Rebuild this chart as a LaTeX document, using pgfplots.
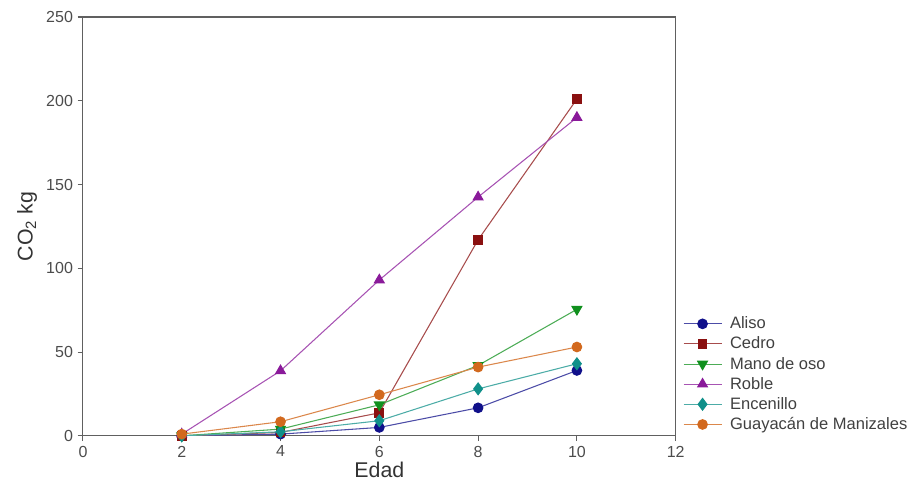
\documentclass[border=0pt]{standalone}
\usepackage{pgfplots}
\pgfplotsset{compat=1.18}
\usepackage{fontspec}
\setmainfont{Liberation Sans}
\definecolor{cAliso}{HTML}{10108A}
\definecolor{cCedro}{HTML}{8A1010}
\definecolor{cMano}{HTML}{10901E}
\definecolor{cRoble}{HTML}{8A1A9A}
\definecolor{cEnce}{HTML}{10908A}
\definecolor{cGuay}{HTML}{D2691E}
\definecolor{axgray}{HTML}{606060}
\begin{document}
\begin{tikzpicture}
\begin{axis}[
    name=ax,
    scale only axis,
    width=444.75pt, height=314.25pt,
    xmin=0, xmax=12, ymin=0, ymax=250,
    xtick={0,2,4,6,8,10,12},
    ytick={0,50,100,150,200,250},
    tick align=outside,
    xtick pos=bottom, ytick pos=left,
    major tick length=4pt,
    axis line style={axgray, line width=0.8pt},
    tick style={axgray, line width=0.8pt},
    /pgf/number format/assume math mode=true,
    ticklabel style={font=\fontsize{12}{14}\selectfont, text=black!70},
    xlabel={Edad}, ylabel={CO\textsubscript{2} kg},
    label style={font=\fontsize{16}{19}\selectfont, text=black!80},
    xlabel style={yshift=3.5pt},
    every axis plot/.append style={line width=0.8pt},
    legend style={at={(1.012,0.291)}, anchor=north west, draw=none, fill=none,
        font=\fontsize{12.4}{15}\selectfont, text=black!75, row sep=0.6pt, inner sep=0pt,
        /tikz/every odd column/.append style={column sep=4pt}},
    legend cell align=left,
    legend image code/.code={\draw[mark repeat=2,mark phase=2,#1] plot coordinates {(0cm,0cm) (0.5cm,0cm) (1cm,0cm)};},
]
\addplot[color=cAliso!75!white, mark=*, mark size=3.6pt, mark options={fill=cAliso, draw=cAliso}]
coordinates {(2,0) (4,1) (6,5) (8,16.7) (10,39)};
\addlegendentry{Aliso}
\addplot[color=cCedro!75!white, mark=square*, mark size=3.3pt, mark options={fill=cCedro, draw=cCedro}]
coordinates {(2,0) (4,2) (6,13.7) (8,117) (10,201)};
\addlegendentry{Cedro}
\addplot[color=cMano!75!white, mark=triangle*, mark size=4.2pt, mark options={rotate=180, fill=cMano, draw=cMano}]
coordinates {(2,0) (4,4) (6,18.5) (8,42) (10,75.5)};
\addlegendentry{Mano de oso}
\addplot[color=cRoble!75!white, mark=triangle*, mark size=4.2pt, mark options={fill=cRoble, draw=cRoble}]
coordinates {(2,1) (4,38.8) (6,93) (8,142.5) (10,190)};
\addlegendentry{Roble}
\addplot[color=cEnce!75!white, mark=diamond*, mark size=4.4pt, mark options={fill=cEnce, draw=cEnce}]
coordinates {(2,0) (4,2.4) (6,9) (8,28) (10,43)};
\addlegendentry{Encenillo}
\addplot[color=cGuay!80!white, mark=*, mark size=3.6pt, mark options={fill=cGuay, draw=cGuay}]
coordinates {(2,1) (4,8.4) (6,24.5) (8,41) (10,53)};
\addlegendentry{Guayacán de Manizales}
\end{axis}
\path (ax.south west) ++(-62.25pt,-48.75pt) rectangle ++(682.5pt,375.75pt);
\end{tikzpicture}
\end{document}
